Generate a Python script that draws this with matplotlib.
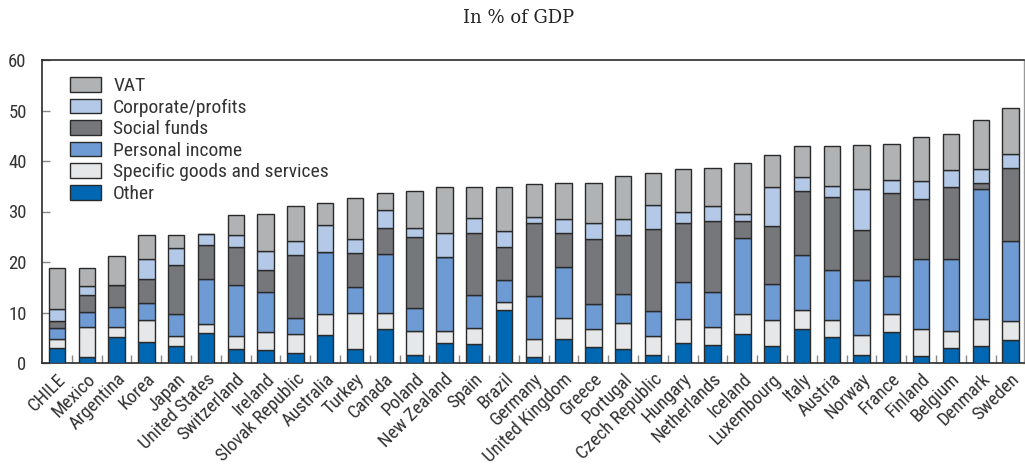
import matplotlib
matplotlib.use("Agg")
import matplotlib.pyplot as plt
from matplotlib import font_manager
from matplotlib.patches import Patch
import numpy as np

countries = ["CHILE", "Mexico", "Argentina", "Korea", "Japan", "United States",
             "Switzerland", "Ireland", "Slovak Republic", "Australia", "Turkey",
             "Canada", "Poland", "New Zealand", "Spain", "Brazil", "Germany",
             "United Kingdom", "Greece", "Portugal", "Czech Republic", "Hungary",
             "Netherlands", "Iceland", "Luxembourg", "Italy", "Austria", "Norway",
             "France", "Finland", "Belgium", "Denmark", "Sweden"]

other = [2.9, 1.1, 5.1, 4.2, 3.3, 5.9, 2.8, 2.6, 2.0, 5.5, 2.7, 6.7, 1.6, 4.0, 3.7,
         10.4, 1.1, 4.8, 3.1, 2.8, 1.5, 3.9, 3.6, 5.7, 3.4, 6.7, 5.1, 1.6, 6.2, 1.3,
         3.0, 3.4, 4.6]
specific = [1.9, 6.1, 2.0, 4.4, 2.1, 1.8, 2.5, 3.6, 3.8, 4.3, 7.2, 3.2, 4.8, 2.3, 3.2,
            1.6, 3.7, 4.1, 3.6, 5.1, 3.8, 4.9, 3.5, 4.1, 5.1, 3.8, 3.4, 4.0, 3.5, 5.4,
            3.3, 5.4, 3.7]
personal = [2.2, 2.9, 3.9, 3.2, 4.4, 9.0, 10.1, 7.9, 3.2, 12.1, 5.2, 11.7, 4.4, 14.7,
            6.5, 4.4, 8.5, 10.2, 4.9, 5.7, 4.9, 7.2, 6.9, 14.9, 7.1, 10.8, 9.9, 10.8,
            7.5, 13.8, 14.2, 25.6, 15.8]
social = [1.4, 3.3, 4.4, 4.8, 9.6, 6.7, 7.5, 4.3, 12.4, 0.0, 6.7, 5.1, 14.1, 0.0, 12.3,
          6.5, 14.4, 6.6, 13.0, 11.7, 16.4, 11.8, 14.1, 3.4, 11.5, 12.8, 14.5, 10.0,
          16.5, 12.0, 14.4, 1.2, 14.6]
corporate = [2.2, 1.8, 0.0, 4.0, 3.4, 2.1, 2.4, 3.8, 2.8, 5.4, 2.7, 3.5, 1.8, 4.7, 3.0,
             3.2, 1.3, 2.8, 3.2, 3.2, 4.6, 2.1, 2.9, 1.5, 7.8, 2.7, 2.1, 8.1, 2.5, 3.5,
             3.4, 2.9, 2.6]
vat = [8.3, 3.7, 5.7, 4.7, 2.5, 0.0, 4.1, 7.4, 6.8, 4.3, 8.2, 3.5, 7.4, 9.1, 6.1,
       8.7, 6.5, 7.1, 7.8, 8.6, 6.5, 8.5, 7.7, 10.1, 6.3, 6.2, 8.0, 8.7, 7.2, 8.7,
       7.0, 9.7, 9.2]

series = [
    ("Other", other, "#0068b3"),
    ("Specific goods and services", specific, "#e6e7e8"),
    ("Personal income", personal, "#6e9bd3"),
    ("Social funds", social, "#76777b"),
    ("Corporate/profits", corporate, "#b4c8e8"),
    ("VAT", vat, "#b1b2b4"),
]

# Pick a condensed sans face if one is installed
available = {f.name for f in font_manager.fontManager.ttflist}
sans = "DejaVu Sans"
for cand in ["Liberation Sans Narrow", "Roboto Condensed", "Open Sans Condensed",
             "DejaVu Sans Condensed", "Liberation Sans", "Roboto"]:
    if cand in available:
        sans = cand
        break
serif = "DejaVu Serif"

text_color = "#333333"
edge_color = "#2a2a2a"

fig = plt.figure(figsize=(10.25, 4.7), dpi=100)
ax = fig.add_axes([42 / 1025, 1 - 363 / 470, 982 / 1025, 303 / 470])

x = np.arange(len(countries))
bottom = np.zeros(len(countries))
for name, vals, color in series:
    vals = np.asarray(vals)
    ax.bar(x, vals, width=0.55, bottom=bottom, color=color, edgecolor=edge_color,
           linewidth=1.0, label=name, zorder=3)
    bottom += vals

ax.set_xlim(-0.503, -0.503 + 982 / 29.8)
ax.set_ylim(0, 60)
ax.set_yticks(np.arange(0, 61, 10))
ax.tick_params(axis="y", direction="in", length=6, width=1, color="#888888",
               pad=11, labelsize=13.5, labelcolor=text_color)
for lab in ax.get_yticklabels():
    lab.set_fontfamily(sans)

ax.set_xticks(x)
ax.set_xticklabels(countries, rotation=45, ha="right", va="top",
                   rotation_mode="anchor", fontsize=13.5, color=text_color,
                   fontfamily=sans)
ax.tick_params(axis="x", which="major", length=0, pad=5)
ax.set_xticks(x[:-1] + 0.5, minor=True)
ax.tick_params(axis="x", which="minor", direction="in", length=6, width=1,
               color="#888888")

for side in ["left", "bottom", "top"]:
    ax.spines[side].set_color(edge_color)
    ax.spines[side].set_linewidth(1.2)
ax.spines["right"].set_color("#999999")
ax.spines["right"].set_linewidth(1.0)

handles = [Patch(facecolor=c, edgecolor=edge_color, linewidth=1.0)
           for _, _, c in series][::-1]
labels = [n for n, _, _ in series][::-1]
ax.legend(handles, labels, loc="upper left",
          bbox_to_anchor=(70 / 1025, 1 - 77 / 470), bbox_transform=fig.transFigure,
          frameon=False, borderpad=0, borderaxespad=0,
          prop={"family": sans, "size": 14},
          labelcolor=text_color, handlelength=1.6, handleheight=0.78,
          handletextpad=0.62, labelspacing=0.18)

fig.text(519 / 1025, 1 - 18 / 470, "In % of GDP", ha="center", va="center",
         fontsize=13, fontfamily=serif, color="#222222")

fig.savefig("out.png", dpi=100)
